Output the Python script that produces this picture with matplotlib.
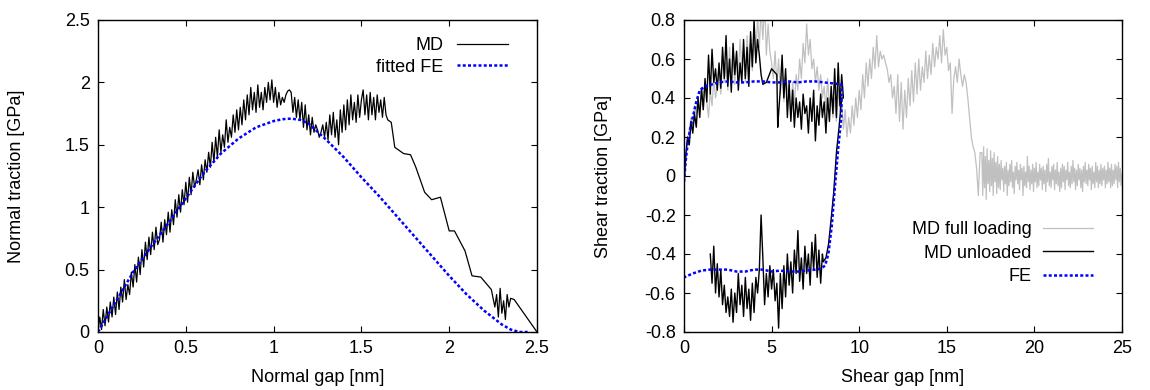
import numpy as np
import matplotlib
matplotlib.use("Agg")
import matplotlib.pyplot as plt
from matplotlib.ticker import FuncFormatter

plt.rcParams['font.family'] = ['Liberation Sans', 'DejaVu Sans']
plt.rcParams['font.size'] = 13

# ---- left panel data (normal traction vs normal gap) ----
# dense MD record, read every 0.01 nm from 0 to 1.65 nm
md_n_x_dense = np.round(np.arange(0, 1.655, 0.01), 2)
md_n_y_dense = [
    0.00, 0.12, 0.02, 0.18, 0.05, 0.20, 0.08, 0.24, 0.12, 0.28,
    0.14, 0.32, 0.18, 0.36, 0.24, 0.42, 0.26, 0.38, 0.30, 0.48,
    0.36, 0.54, 0.40, 0.60, 0.46, 0.66, 0.52, 0.72, 0.58, 0.76,
    0.62, 0.80, 0.66, 0.84, 0.70, 0.74, 0.88, 0.72, 0.90, 0.78,
    0.96, 0.80, 0.98, 0.86, 1.06, 0.92, 1.10, 0.96, 1.14, 1.02,
    1.20, 1.04, 1.24, 1.10, 1.28, 1.16, 1.22, 1.30, 1.18, 1.34,
    1.22, 1.38, 1.28, 1.44, 1.32, 1.52, 1.36, 1.56, 1.40, 1.62,
    1.44, 1.58, 1.48, 1.70, 1.52, 1.64, 1.56, 1.74, 1.60, 1.78,
    1.62, 1.80, 1.66, 1.86, 1.70, 1.90, 1.74, 1.96, 1.78, 1.92,
    1.76, 1.98, 1.80, 1.92, 1.78, 1.96, 1.84, 2.00, 1.86, 2.02,
    1.84, 1.96, 1.80, 1.92, 1.82, 1.88, 1.84, 1.90, 1.93, 1.94,
    1.92, 1.76, 1.88, 1.72, 1.86, 1.70, 1.84, 1.64, 1.82, 1.62,
    1.74, 1.58, 1.72, 1.60, 1.66, 1.62, 1.56, 1.60, 1.66, 1.56,
    1.68, 1.54, 1.74, 1.58, 1.76, 1.56, 1.70, 1.50, 1.78, 1.60,
    1.82, 1.62, 1.86, 1.66, 1.90, 1.70, 1.84, 1.68, 1.90, 1.72,
    1.86, 1.94, 1.74, 1.90, 1.70, 1.92, 1.74, 1.88, 1.70, 1.90,
    1.76, 1.86, 1.72, 1.88, 1.74, 1.70,
]
# sparse softening tail
md_n_x_tail = [1.67, 1.69, 1.74, 1.78, 1.81, 1.86, 1.90, 1.95, 2.00, 2.03,
               2.09, 2.13, 2.18, 2.24, 2.26, 2.27, 2.28, 2.29, 2.30, 2.31,
               2.32, 2.33, 2.34, 2.35, 2.37, 2.50]
md_n_y_tail = [1.68, 1.48, 1.43, 1.42, 1.32, 1.12, 1.06, 1.08, 0.81, 0.81,
               0.65, 0.45, 0.44, 0.34, 0.20, 0.30, 0.12, 0.35, 0.15, 0.25,
               0.10, 0.30, 0.20, 0.27, 0.26, 0.00]

fe_n_x = [0, 0.1, 0.2, 0.3, 0.4, 0.5, 0.6, 0.7, 0.8, 0.9, 1.0, 1.05, 1.1, 1.15,
          1.2, 1.3, 1.4, 1.5, 1.6, 1.7, 1.8, 1.9, 2.0, 2.1, 2.2, 2.3, 2.35, 2.4, 2.45]
fe_n_y = [0, 0.24, 0.48, 0.68, 0.87, 1.07, 1.27, 1.43, 1.55, 1.64, 1.69, 1.705, 1.71, 1.70,
          1.67, 1.54, 1.40, 1.24, 1.09, 0.93, 0.77, 0.61, 0.45, 0.30, 0.17, 0.06, 0.02, 0.0, 0.0]

# ---- right panel data (shear traction vs shear gap) ----
# MD full loading, read every 0.1 nm up to 16.9 nm ...
md_full_x1 = np.round(np.arange(0, 16.95, 0.1), 1)
md_full_y1 = [
    0.00, 0.10, 0.18, 0.24, 0.30, 0.26, 0.36, 0.32, 0.40, 0.35,
    0.45, 0.34, 0.48, 0.38, 0.30, 0.44, 0.36, 0.50, 0.40, 0.46,
    0.55, 0.42, 0.62, 0.48, 0.58, 0.44, 0.66, 0.50, 0.60, 0.47,
    0.63, 0.52, 0.70, 0.55, 0.66, 0.48, 0.72, 0.58, 0.68, 0.54,
    0.74, 0.60, 0.82, 0.66, 0.86, 0.70, 0.90, 0.62, 0.78, 0.64,
    0.58, 0.50, 0.64, 0.47, 0.60, 0.42, 0.55, 0.38, 0.52, 0.45,
    0.40, 0.32, 0.48, 0.36, 0.52, 0.44, 0.60, 0.50, 0.68, 0.58,
    0.78, 0.62, 0.70, 0.55, 0.60, 0.48, 0.56, 0.44, 0.52, 0.40,
    0.46, 0.34, 0.50, 0.36, 0.44, 0.30, 0.40, 0.28, 0.45, 0.33,
    0.38, 0.24, 0.34, 0.20, 0.30, 0.22, 0.36, 0.26, 0.40, 0.30,
    0.44, 0.34, 0.52, 0.40, 0.58, 0.46, 0.60, 0.50, 0.66, 0.55,
    0.72, 0.56, 0.64, 0.60, 0.62, 0.58, 0.55, 0.48, 0.52, 0.40,
    0.46, 0.32, 0.52, 0.28, 0.48, 0.24, 0.44, 0.30, 0.50, 0.36,
    0.54, 0.38, 0.58, 0.42, 0.60, 0.44, 0.56, 0.48, 0.64, 0.50,
    0.62, 0.52, 0.68, 0.56, 0.66, 0.60, 0.72, 0.58, 0.75, 0.62,
    0.66, 0.54, 0.58, 0.32, 0.50, 0.56, 0.48, 0.60, 0.52, 0.46,
    0.52, 0.48, 0.40, 0.30, 0.20, 0.15, 0.12, 0.04, -0.10, 0.12,
]
# ... and every 0.05 nm in the noisy tail from 17 to 25 nm
md_full_x2 = np.round(np.arange(17.0, 25.001, 0.05), 2)
md_full_y2 = [
    0.12, -0.10, 0.15, -0.06, 0.10, -0.12, 0.14, -0.04, 0.08, -0.08,
    0.13, -0.05, 0.09, -0.10, 0.12, -0.03, 0.07, -0.09, 0.10, -0.06,
    0.06, -0.07, 0.08, -0.02, 0.04, -0.08, 0.05, -0.04, 0.07, -0.10,
    0.03, -0.05, 0.06, -0.03, 0.08, -0.06, 0.02, -0.09, 0.05, -0.02,
    0.07, -0.04, 0.03, -0.07, 0.06, -0.02, 0.04, -0.10, 0.05, -0.05,
    0.02, -0.06, 0.10, -0.03, 0.05, -0.07, 0.03, -0.04, 0.06, -0.08,
    0.04, -0.03, 0.07, -0.06, 0.02, -0.05, 0.06, -0.02, 0.04, -0.07,
    0.05, -0.04, 0.03, -0.08, 0.06, -0.03, 0.09, -0.05, 0.02, -0.06,
    0.05, -0.02, 0.06, -0.07, 0.03, -0.04, 0.07, -0.05, 0.02, -0.08,
    0.04, -0.06, 0.06, -0.03, 0.05, -0.07, 0.03, -0.02, 0.07, -0.05,
    0.02, -0.06, 0.05, -0.04, 0.08, -0.03, 0.04, -0.07, 0.03, -0.05,
    0.06, -0.02, 0.04, -0.06, 0.03, -0.08, 0.05, -0.03, 0.07, -0.04,
    0.03, -0.05, 0.06, -0.02, 0.04, -0.07, 0.05, -0.04, 0.02, -0.06,
    0.07, -0.03, 0.05, -0.06, 0.03, -0.04, 0.06, -0.05, 0.04, -0.02,
    0.05, -0.06, 0.03, -0.04, 0.07, -0.03, 0.04, -0.06, 0.06, -0.05,
    0.03, -0.04, 0.06, -0.02, 0.05, -0.06, 0.07, -0.03, 0.04, -0.05,
    0.01,
]

# MD unloaded: loading branch, short quiet part, second loading part,
# drop at reversal, then unloading branch back to 1.5 nm
md_unl_x1 = np.round(np.arange(0, 4.55, 0.1), 1)
md_unl_y1 = [
    -0.05, 0.10, 0.20, 0.16, 0.28, 0.22, 0.32, 0.25, 0.40, 0.30,
    0.45, 0.34, 0.50, 0.38, 0.62, 0.42, 0.65, 0.48, 0.55, 0.44,
    0.58, 0.45, 0.66, 0.50, 0.72, 0.46, 0.60, 0.43, 0.68, 0.52,
    0.64, 0.44, 0.58, 0.48, 0.70, 0.50, 0.66, 0.46, 0.74, 0.56,
    0.80, 0.58, 0.70, 0.62, 0.52, 0.47,
]
md_unl_x2 = [4.7, 5.0, 5.3, 5.35]
md_unl_y2 = [0.48, 0.55, 0.52, 0.25]
md_unl_x3 = np.round(np.arange(5.4, 9.15, 0.1), 1)
md_unl_y3 = [
    0.32, 0.45, 0.62, 0.40, 0.55, 0.30, 0.48, 0.28, 0.44, 0.25,
    0.40, 0.30, 0.38, 0.24, 0.42, 0.32, 0.36, 0.22, 0.40, 0.28,
    0.44, 0.18, 0.36, 0.26, 0.42, 0.30, 0.38, 0.22, 0.40, 0.28,
    0.46, 0.32, 0.55, 0.30, 0.58, 0.36, 0.52, 0.40,
]
md_unl_x4 = [9.0, 8.85, 8.7, 8.55, 8.4, 8.25, 8.1, 7.95]
md_unl_y4 = [0.40, 0.25, 0.12, -0.08, -0.22, -0.35, -0.42, -0.44]
md_unl_x5 = np.round(np.arange(7.9, 1.45, -0.1), 1)
md_unl_y5 = [
    -0.40, -0.55, -0.38, -0.52, -0.30, -0.48, -0.34, -0.56, -0.40, -0.50,
    -0.36, -0.58, -0.42, -0.54, -0.28, -0.50, -0.38, -0.60, -0.44, -0.56,
    -0.40, -0.62, -0.46, -0.68, -0.50, -0.78, -0.55, -0.64, -0.48, -0.58,
    -0.46, -0.62, -0.50, -0.66, -0.42, -0.20, -0.48, -0.60, -0.52, -0.70,
    -0.55, -0.74, -0.58, -0.68, -0.52, -0.72, -0.56, -0.66, -0.50, -0.70,
    -0.60, -0.75, -0.58, -0.72, -0.62, -0.70, -0.56, -0.66, -0.48, -0.62,
    -0.45, -0.60, -0.36, -0.55, -0.40,
]

fe_s_x = [0, 0.1, 0.2, 0.35, 0.5, 0.7, 0.9, 1.2, 1.6, 2.0, 2.5, 3.0, 3.5, 4.0,
          4.5, 5.0, 5.5, 6.0, 6.5, 7.0, 7.5, 8.0, 8.5, 9.0,
          8.98, 8.81, 8.62, 8.43, 8.24, 8.05,
          7.8, 7.5, 7.0, 6.5, 6.0, 5.5, 5.0, 4.5, 4.0, 3.5, 3.0, 2.5, 2.0,
          1.5, 1.0, 0.5, 0.0]
fe_s_y = [-0.03, 0.08, 0.16, 0.24, 0.30, 0.38, 0.44, 0.46, 0.47, 0.48, 0.485, 0.48, 0.48, 0.485,
          0.485, 0.48, 0.48, 0.485, 0.48, 0.485, 0.485, 0.48, 0.475, 0.47,
          0.30, 0.15, -0.05, -0.26, -0.40, -0.46,
          -0.475, -0.48, -0.485, -0.49, -0.49, -0.485, -0.49, -0.48, -0.48, -0.49, -0.49, -0.48, -0.48,
          -0.48, -0.485, -0.50, -0.52]

fmt = FuncFormatter(lambda v, p: '%g' % round(v, 3))
fe_style = dict(color='#0000ff', lw=1.8, linestyle=(0, (1.2, 0.9)))

fig = plt.figure(figsize=(11.5, 3.9), dpi=100)

# left panel
ax1 = fig.add_axes([98 / 1150, 58 / 390, 439 / 1150, 312 / 390])
ax1.plot(np.concatenate([md_n_x_dense, md_n_x_tail]),
         np.concatenate([md_n_y_dense, md_n_y_tail]),
         color='black', lw=0.9, label='MD')
ax1.plot(fe_n_x, fe_n_y, label='fitted FE', **fe_style)
ax1.set_xlim(0, 2.5)
ax1.set_ylim(0, 2.5)
ax1.set_xticks([0, 0.5, 1, 1.5, 2, 2.5])
ax1.set_yticks([0, 0.5, 1, 1.5, 2, 2.5])
ax1.set_xlabel('Normal gap [nm]')
ax1.set_ylabel('Normal traction [GPa]')
ax1.legend(loc='upper right', bbox_to_anchor=(0.934, 0.945), frameon=False,
           markerfirst=False, handlelength=2.8, handletextpad=0.8,
           labelspacing=0.25, borderpad=0, borderaxespad=0)

# right panel
ax2 = fig.add_axes([684 / 1150, 58 / 390, 438 / 1150, 312 / 390])
ax2.plot(np.concatenate([md_full_x1, md_full_x2]),
         np.concatenate([md_full_y1, md_full_y2]),
         color='#c0c0c0', lw=0.9, label='MD full loading')
ax2.plot(np.concatenate([md_unl_x1, md_unl_x2, md_unl_x3, md_unl_x4, md_unl_x5]),
         np.concatenate([md_unl_y1, md_unl_y2, md_unl_y3, md_unl_y4, md_unl_y5]),
         color='black', lw=1.0, label='MD unloaded')
ax2.plot(fe_s_x, fe_s_y, label='FE', **fe_style)
ax2.set_xlim(0, 25)
ax2.set_ylim(-0.8, 0.8)
ax2.set_xticks([0, 5, 10, 15, 20, 25])
ax2.set_yticks([-0.8, -0.6, -0.4, -0.2, 0, 0.2, 0.4, 0.6, 0.8])
ax2.set_xlabel('Shear gap [nm]')
ax2.set_ylabel('Shear traction [GPa]')
ax2.legend(loc='upper right', bbox_to_anchor=(0.934, 0.355), frameon=False,
           markerfirst=False, handlelength=2.8, handletextpad=0.6,
           labelspacing=0.35, borderpad=0, borderaxespad=0)

for ax in (ax1, ax2):
    ax.xaxis.set_major_formatter(fmt)
    ax.yaxis.set_major_formatter(fmt)
    ax.tick_params(direction='in', top=True, right=True, length=4, width=0.8,
                   labelsize=13, pad=6)
    for s in ax.spines.values():
        s.set_linewidth(1.0)
    ax.xaxis.set_label_coords(0.5, -0.12)
ax1.yaxis.set_label_coords(-0.166, 0.5)
ax2.yaxis.set_label_coords(-0.164, 0.5)

fig.savefig('out.png', dpi=100)
